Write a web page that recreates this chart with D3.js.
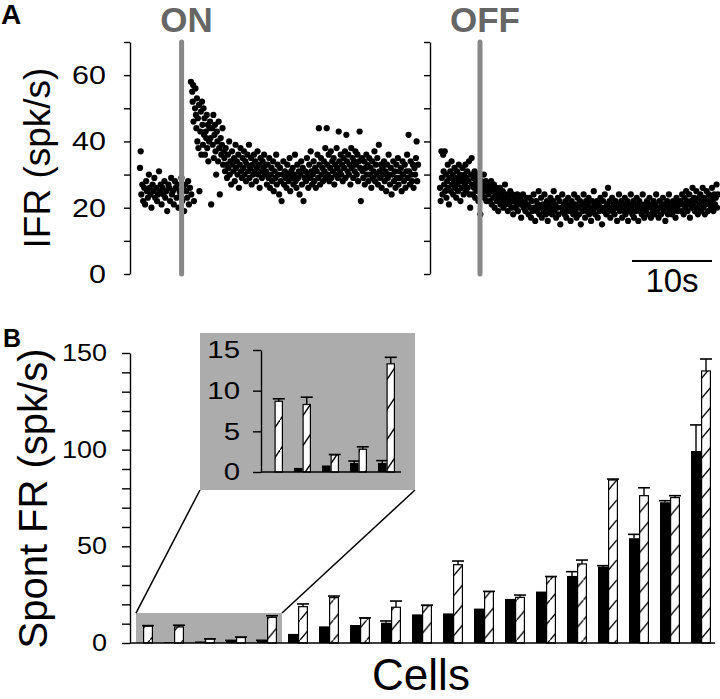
<!DOCTYPE html>
<html><head><meta charset="utf-8">
<script src="https://cdn.jsdelivr.net/npm/d3@7"></script>
<style>body{margin:0;background:#fff} svg{display:block} text{font-family:"Liberation Sans",Arial,Helvetica,sans-serif}</style>
</head><body><svg id="c" width="720" height="699"></svg>
<script>
// ---------- Panel A data: instantaneous firing rate (spk/s), one value per spike ----------
const onIFR = [
32,37,24,27,22,26,21,28,25,23,30,26,24,20,27,25,29,23,26,22,24,31,25,27,21,26,24,28,23,25,19,27,26,22,29,24,25,21,28,26,23,27,20,25,24,29,22,26,19,27,25,23,28,21,26,
58,24,55,52,57,46,22,50,56,48,
44,53,40,47,38,51,25,43,49,36,52,45,39,50,42,47,36,43,41,48,38,45,34,40,44,46,41,21,44,39,48,35,42,45,37,30,43,40,34,46,38,24,41,36,39,44,33,37,
35,31,38,33,29,36,32,40,30,34,27,37,33,31,35,28,39,32,34,30,36,26,33,38,31,29,35,32,37,30,34,28,33,36,31,39,29,32,35,27,33,30,36,31,34,28,32,37,30,33,26,35,31,29,34,32,36,30,33,
31,27,33,29,35,26,30,32,28,34,25,31,29,36,27,33,30,24,32,28,22,30,34,27,31,29,26,33,30,28,35,25,31,29,32,27,30,36,28,26,
33,29,31,24,30,34,27,32,22,29,31,28,35,30,26,33,29,37,31,27,30,34,28,32,26,31,36,29,44,33,27,35,30,32,28,34,31,38,29,44,
33,30,36,28,32,37,29,34,31,35,27,33,30,38,32,29,43,34,31,36,30,33,28,35,32,37,29,42,34,31,36,30,33,27,38,32,35,29,34,31,
37,33,30,36,28,34,43,32,22,35,31,29,34,27,32,36,30,33,28,35,30,32,26,34,29,31,37,28,33,30,35,27,39,31,29,33,26,32,30,34,
28,31,25,33,29,36,30,27,32,24,30,34,28,31,26,33,29,35,27,31,29,32,25,34,30,28,33,26,31,36,29,42,31,27,34,30,28,33,26,32,
30,35,40,28,33
];
const offIFR = [
26,22,37,29,24,36,31,27,37,25,30,23,28,33,26,21,29,31,25,34,27,30,24,28,32,26,29,23,31,27,25,33,28,30,22,29,26,32,28,24,30,27,33,25,29,31,26,28,34,24,20,30,
35,27,24,29,26,31,23,28,25,30,27,22,29,26,18,28,24,27,25,30,23,26,28,22,25,27,
24,27,22,26,28,21,25,23,27,20,24,26,22,25,19,23,26,21,24,22,25,20,23,27,21,22,24,19,23,21,25,22,20,24,18,22,23,20,21,24,19,22,21,23,17,21,24,20,22,19,21,23,
21,18,23,20,17,22,19,24,20,16,22,19,21,25,18,20,23,17,21,19,24,20,18,22,16,21,19,23,20,18,22,25,19,21,17,20,23,18,22,15,
20,24,19,21,18,22,17,20,23,19,21,16,22,20,18,24,19,21,17,23,20,18,22,15,21,19,24,20,17,22,19,21,23,18,20,16,22,19,25,21,
18,20,22,17,21,19,23,20,15,22,19,24,20,18,21,26,19,22,17,20,23,19,21,18,22,20,16,21,24,19,20,22,17,21,19,23,18,20,22,16,
21,19,24,20,18,22,17,21,19,23,20,16,22,19,21,18,24,20,17,21,19,22,20,18,23,21,17,20,19,22,18,21,24,19,20,17,22,20,18,21,
23,19,21,16,20,22,18,24,19,21,20,18,22,19,21,17,23,20,19,22,21,
22,19,24,21,18,23,20,25,22,19,21,24,17,22,20,26,21,23,19,22,25,20,18,23,21,24,19,22,26,20,23,18,21,25,22,19,24,21,23,20,26,22,19,24,21,23,27,20,24
];
const recordDuration = 34.75;   // s, each trace
const onTime = 5.2;             // s, light ON within first trace
const offTime = 5.0;            // s, light OFF within second trace
const scaleBarSeconds = [24, 34];
const ifrTicks = [0,10,20,30,40,50,60,70];
const ifrLabels = [0,20,40,60];

// ---------- Panel B data: spontaneous firing rate per cell (spk/s) ----------
const cells = [1,2,3,4,5,6,7,8,9,10,11,12,13,14,15,16,17,18,19];
const solidFR    = [0,0.5,0.8,1.1,1.1,4.7,8.6,9.3,10.5,14.8,15.3,17.8,22.8,26.6,34.7,39.5,54.2,72.8,99.3];
const solidErr   = [0,0,0,0.25,0.3,0,0,0,0.9,0,0,0,0,0,2.2,0.5,2.0,0.8,13.5];
const hatchedFR  = [8.7,8.3,2.1,2.8,13.3,18.8,23.5,12.8,18.5,19.3,40.5,26.6,23.6,34.3,40.9,84.3,76.2,75.2,140.7];
const hatchedErr = [0.3,0.9,0.05,0.3,0.8,1.4,0.8,0.2,3.2,0.3,1.9,0.1,1.2,0.1,2.0,0.5,4.1,1.0,6.2];
const frTicks = [0,10,20,30,40,50,60,70,80,90,100,110,120,130,140,150];
const frLabels = [0,50,100,150];
const insetCount = 5;
const insetTicks = [0,5,10,15];
const zoomTop = 15.5;

// ---------- drawing ----------
const svg = d3.select("#c");
const FONT = '"Liberation Sans",Arial,Helvetica,sans-serif';
svg.append("rect").attr("width",720).attr("height",699).attr("fill","#fff");

const defs = svg.append("defs");
function hatch(id, w, h, sw) {
  const p = defs.append("pattern").attr("id", id).attr("patternUnits","userSpaceOnUse")
    .attr("width", w).attr("height", h);
  p.append("rect").attr("width", w).attr("height", h).attr("fill", "#fff");
  p.append("line").attr("x1",-1).attr("y1",h+h/w).attr("x2",w+1).attr("y2",-h/w)
    .attr("stroke","#000").attr("stroke-width",sw);
}
hatch("hatchMain", 16.67, 20, 1.4);
hatch("hatchInset", 20, 30, 1.4);

function styleAxis(g, fs, sc, pad) {
  g.attr("font-family", FONT).attr("font-size", fs);
  g.select(".domain").attr("stroke","#000").attr("stroke-width",1.4);
  g.selectAll(".tick line").attr("stroke","#000").attr("stroke-width",1.4);
  g.selectAll(".tick text").attr("fill","#000").attr("x", -pad/sc)
    .attr("transform", `scale(${sc},1)`);
}

// ===== Panel A =====
const yA = d3.scaleLinear().domain([0,70]).range([274,42]);
const xOn = d3.scaleLinear().domain([0,35]).range([140,420]);
const xOff = d3.scaleLinear().domain([0,35]).range([440,720]);

svg.append("text").text("A").attr("x",1).attr("y",24)
  .attr("font-size",28).attr("font-weight","bold").attr("font-family",FONT);

const gA1 = svg.append("g").attr("transform","translate(130,0)")
  .call(d3.axisLeft(yA).tickValues(ifrTicks).tickSize(6).tickSizeOuter(0)
    .tickFormat(d => ifrLabels.includes(d) ? d : ""));
styleAxis(gA1, 26.5, 1.15, 24);
const gA2 = svg.append("g").attr("transform","translate(430,0)")
  .call(d3.axisLeft(yA).tickValues(ifrTicks).tickSize(6).tickSizeOuter(0).tickFormat(() => ""));
styleAxis(gA2, 26.5, 1.15, 24);

svg.append("text").text("IFR (spk/s)")
  .attr("transform", `translate(50,${(yA(0)+yA(70))/2}) rotate(-90)`)
  .attr("text-anchor","middle").attr("font-size",37).attr("font-family",FONT);

// spike times from inter-spike intervals (1/IFR), normalised to the trace duration
function spikeTimes(data) {
  const cum = [0];
  for (let i = 1; i < data.length; i++) cum.push(cum[i-1] + 1/data[i-1]);
  const k = recordDuration / cum[cum.length-1];
  return cum.map(c => c*k);
}
function dots(data, xs) {
  const ts = spikeTimes(data);
  svg.append("g").selectAll("circle").data(data).join("circle")
    .attr("cx", (d,i) => xs(ts[i])).attr("cy", d => yA(d)).attr("r", 3.1).attr("fill","#000");
}
dots(onIFR, xOn);
dots(offIFR, xOff);

function marker(xs, t, label) {
  svg.append("line").attr("x1", xs(t)).attr("x2", xs(t)).attr("y1", yA(70)).attr("y2", yA(0))
    .attr("stroke","#888").attr("stroke-width",5).attr("stroke-linecap","round");
  svg.append("text").text(label).attr("x", xs(t)+5).attr("y", 31.5)
    .attr("text-anchor","middle").attr("font-size",35).attr("font-weight","bold")
    .attr("fill","#666").attr("font-family",FONT);
}
marker(xOn, onTime, "ON");
marker(xOff, offTime, "OFF");

svg.append("line").attr("x1", xOff(scaleBarSeconds[0])).attr("x2", xOff(scaleBarSeconds[1]))
  .attr("y1",261).attr("y2",261).attr("stroke","#000").attr("stroke-width",2);
svg.append("text").text((scaleBarSeconds[1]-scaleBarSeconds[0]) + "s")
  .attr("x", (xOff(scaleBarSeconds[0])+xOff(scaleBarSeconds[1]))/2).attr("y",292)
  .attr("text-anchor","middle").attr("font-size",33).attr("font-family",FONT);

// ===== Panel B =====
const yB = d3.scaleLinear().domain([0,150]).range([643,353]);
const xB = d3.scaleBand().domain(cells).range([127.5,716.5]).paddingInner(11/31).paddingOuter(5.5/31);
const sub = d3.scaleBand().domain(["solid","hatched"]).range([0, xB.bandwidth()]);

svg.append("text").text("B").attr("x",3).attr("y",347)
  .attr("font-size",25).attr("font-weight","bold").attr("font-family",FONT);

// shaded zoom region
const zx0 = xB(cells[0]) + 3, zx1 = xB(cells[insetCount-1]) + xB.bandwidth() + 5;
svg.append("rect").attr("x", zx0).attr("y", yB(zoomTop)).attr("width", zx1-zx0)
  .attr("height", yB(0)-yB(zoomTop)).attr("fill","#acacac");

// inset geometry
const yI = d3.scaleLinear().domain([0,15]).range([472,350]);
const xI = d3.scaleBand().domain(cells.slice(0,insetCount)).range([260.5,400.5]).paddingInner(11/28).paddingOuter(5.5/28);
const subI = d3.scaleBand().domain(["solid","hatched"]).range([0, xI.bandwidth()]);
const inX0 = 200, inX1 = 415, inY0 = 333, inY1 = 490;

svg.append("line").attr("x1", zx0).attr("y1", yB(zoomTop)).attr("x2", inX0).attr("y2", inY1)
  .attr("stroke","#000").attr("stroke-width",1.5);
svg.append("line").attr("x1", zx1).attr("y1", yB(zoomTop)).attr("x2", inX1).attr("y2", inY1)
  .attr("stroke","#000").attr("stroke-width",1.5);

function drawBars(g, xs, sb, ys, n, patt, cap) {
  const rows = d3.range(n).map(i => ({c: cells[i], s: solidFR[i], se: solidErr[i], h: hatchedFR[i], he: hatchedErr[i]}));
  const bw = sb.bandwidth();
  rows.forEach(r => {
    const xsI = xs(r.c) + sb("solid"), xh = xs(r.c) + sb("hatched");
    if (r.s > 0) {
      g.append("rect").attr("x", xsI).attr("y", ys(r.s)).attr("width", bw).attr("height", ys(0)-ys(r.s)).attr("fill","#000");
      if (r.se > 0) {
        g.append("line").attr("x1", xsI+bw/2).attr("x2", xsI+bw/2).attr("y1", ys(r.s)).attr("y2", ys(r.s+r.se)).attr("stroke","#000").attr("stroke-width",1.4);
        g.append("line").attr("x1", xsI+bw/2-cap/2).attr("x2", xsI+bw/2+cap/2).attr("y1", ys(r.s+r.se)).attr("y2", ys(r.s+r.se)).attr("stroke","#000").attr("stroke-width",1.6);
      }
    }
    g.append("rect").attr("x", xh+0.6).attr("y", ys(r.h)).attr("width", bw-1.2).attr("height", ys(0)-ys(r.h))
      .attr("fill", `url(#${patt})`).attr("stroke","#000").attr("stroke-width",1.2);
    g.append("line").attr("x1", xh+bw/2).attr("x2", xh+bw/2).attr("y1", ys(r.h)).attr("y2", ys(r.h+r.he)).attr("stroke","#000").attr("stroke-width",1.4);
    g.append("line").attr("x1", xh+bw/2-cap/2).attr("x2", xh+bw/2+cap/2).attr("y1", ys(r.h+r.he)).attr("y2", ys(r.h+r.he)).attr("stroke","#000").attr("stroke-width",1.6);
  });
}
drawBars(svg.append("g"), xB, sub, yB, cells.length, "hatchMain", 12);

const gB = svg.append("g").attr("transform","translate(130,0)")
  .call(d3.axisLeft(yB).tickValues(frTicks).tickSize(8).tickSizeOuter(0)
    .tickFormat(d => frLabels.includes(d) ? d : ""));
styleAxis(gB, 23.5, 1.15, 23);
svg.append("line").attr("x1",130).attr("x2",715).attr("y1",yB(0)).attr("y2",yB(0))
  .attr("stroke","#000").attr("stroke-width",1.5);

svg.append("text").text("Spont FR (spk/s)")
  .attr("transform", `translate(47,${(yB(0)+yB(150))/2+0.5}) rotate(-90)`)
  .attr("text-anchor","middle").attr("font-size",40).attr("font-family",FONT);
svg.append("text").text("Cells").attr("x",421).attr("y",690)
  .attr("text-anchor","middle").attr("font-size",44).attr("font-family",FONT);

// inset
svg.append("rect").attr("x", inX0).attr("y", inY0).attr("width", inX1-inX0).attr("height", inY1-inY0).attr("fill","#acacac");
drawBars(svg.append("g"), xI, subI, yI, insetCount, "hatchInset", 12);
const gI = svg.append("g").attr("transform","translate(261,0)")
  .call(d3.axisLeft(yI).tickValues(insetTicks).tickSize(8).tickSizeOuter(0));
styleAxis(gI, 24.5, 1.2, 21);
svg.append("line").attr("x1",261).attr("x2",401).attr("y1",yI(0)).attr("y2",yI(0))
  .attr("stroke","#000").attr("stroke-width",1.5);
</script></body></html>
